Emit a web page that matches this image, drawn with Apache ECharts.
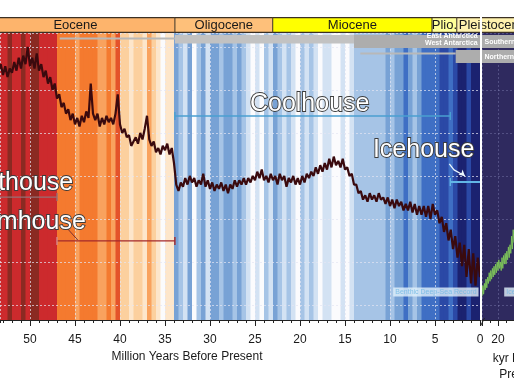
<!DOCTYPE html>
<html><head><meta charset="utf-8">
<script src="https://cdn.jsdelivr.net/npm/echarts@6/dist/echarts.min.js"></script>
<style>html,body{margin:0;padding:0;background:#fff}#c{width:514px;height:386px}</style>
</head><body><div id="c"></div>
<script>
// ---------------- DATA ----------------
// Geological epochs (Ma). Pleistocene bar continues over the kyr panel.
const epochNames   = ['Eocene', 'Oligocene', 'Miocene', 'Plio.', 'Pleistocene'];
const epochStartMa = [56.0, 33.9, 23.03, 5.333, 2.58];
const epochEndMa   = [33.9, 23.03, 5.333, 2.58, -4.0];

// Climate stripes: warmth index per 0.5 Myr bin, from 53.5 Ma to present
const stripeStartMa = 53.5;
const stripeStepMa = 0.5;
const stripeValues = [
  6,6,7,6,6,7,6,7,7,6,6,6,6,
  4,4,4,4,3,4,4,4,4,3,3,4,3,5,
  2,2,1,2,2,1,3,2,1,0,1,1,
  -3,-2,-1,-3,0,-2,-3,-1,-3,-3,-2,-3,-3,-2,-3,-2,-1,0,-1,0,
  -2,-1,-3,-2,-1,-2,-1,0,-2,-1,-2,-1,0,-1,-1,0,0,-1,0,-1,
  -2,-2,-2,-2,-2,-2,-2,-3,-2,-3,-3,-4,-3,-2,-3,-4,-4,-4,-4,-5,-5,-4,-5,-6,-6,-5,-6,-6
];

// Benthic deep-sea temperature record, every 0.25 Myr from 53.5 Ma to present
const tempStartMa = 53.5;
const tempStepMa = 0.25;
const tempValues = [
  10.9,11.2,10.7,11.1,10.6,11.0,10.8,11.3,10.9,11.5,11.0,11.6,11.2,12.0,11.1,11.5,11.0,11.7,10.9,11.2,
  10.6,10.9,10.3,10.6,10.0,10.3,9.6,9.8,9.2,9.4,8.9,9.1,8.6,8.9,8.4,8.7,8.3,8.8,8.5,9.0,
  8.7,10.3,8.9,8.6,8.9,8.3,8.7,8.4,8.8,8.5,8.7,8.4,8.9,9.8,8.4,8.0,8.2,7.8,7.9,7.4,
  7.6,7.8,7.5,8.0,7.7,8.2,8.8,7.7,7.4,7.6,7.1,7.3,7.0,7.4,7.2,7.5,7.0,7.3,6.6,5.6,
  5.3,5.7,5.5,5.9,5.6,6.0,5.7,5.9,5.5,5.8,5.6,6.1,5.5,5.8,5.4,5.7,5.3,5.6,5.4,5.7,
  5.3,5.6,5.2,5.6,5.4,5.8,5.5,5.8,5.6,5.9,5.6,5.9,5.7,6.0,5.8,6.2,5.9,6.3,5.8,6.0,
  5.7,6.1,5.8,6.0,5.6,6.1,5.8,6.0,5.5,5.9,5.7,6.0,5.6,5.9,5.6,6.0,5.7,6.1,5.9,6.2,
  6.0,6.4,6.1,6.5,6.2,6.6,6.3,6.8,6.4,6.9,6.5,6.7,6.4,6.8,6.3,6.4,6.0,6.1,5.6,5.6,
  5.2,5.3,4.9,5.1,4.8,5.2,4.9,5.1,4.8,5.2,4.9,5.0,4.7,5.0,4.6,4.9,4.5,4.9,4.6,4.8,
  4.4,4.7,4.4,4.8,4.3,4.7,4.2,4.6,4.2,4.6,4.1,4.6,4.0,4.7,4.2,4.4,3.8,4.1,3.4,3.8,
  3.0,3.5,2.6,3.2,2.2,2.9,1.8,2.8,1.3,2.6,1.0,2.4,0.9,2.2,1.3
];

// Ice core record (kyr panel), every 1 kyr
const iceCoreStepKyr = 1;
const iceCoreValues = [
  0.4,0.9,0.5,1.0,0.7,1.2,0.8,1.3,1.0,1.5,1.1,1.6,1.2,1.7,1.3,1.8,1.4,1.9,1.5,2.0,
  1.6,2.1,1.7,2.0,1.6,2.2,1.7,2.3,1.9,2.4,1.9,2.5,2.1,2.7,2.2,2.8,2.4,3.2,2.6,3.5,2.9
];

// Climate states
const regimeNames    = ['Hothouse', 'Warmhouse', 'Coolhouse', 'Icehouse'];
const regimeFromMa   = [66.0, 47.0, 33.9, 3.3];
const regimeToMa     = [47.0, 33.9, 3.3, -0.1];

// Ice sheets
const iceSheetRows   = ['Northern', 'Antarctic'];
const iceSheetRow    = [1, 1, 1, 0, 0];
const iceFromMa      = [46.7, 33.9, 14.0, 13.3, 2.7];
const iceToMa        = [33.9, 14.0, -4.0, 2.7, -4.0];
const iceExtent      = ['ephemeral', 'partial', 'full', 'ephemeral', 'full'];

// Axis ticks
const maTickStep = 5;
const kyrTickStep = 20;

// ---------------- LAYOUT / STYLE ----------------
const FONT = '"Liberation Sans", Arial, Helvetica, sans-serif';
const MA_MAX = 53.333, PANEL_PX = 480, CANVAS_W = 514;
const EXT_MIN = -MA_MAX * (CANVAS_W - PANEL_PX) / PANEL_PX;
const Y_MIN = -0.7, Y_MAX = 12.65;
const KYR_MAX = 40;
const STRIPE_PALETTE = ['#1b2270','#2b49a6','#3f6fc4','#78a2d5','#a6c4e6','#d3e2f3','#fbfbfd',
                        '#fde6cb','#fcd09e','#f9a25e','#f47a2f','#e4532a','#cc2a2d','#8a2a22'];
const EPOCH_COLORS = ['#fdb46c','#fec07a','#ffff00','#ffff99','#fff2ae'];
const EDGE = '#3b3024';
const REGIME_STYLE = [
  {color:'#957075', width:1.2},
  {color:'#a3282b', width:1.4, leftCap:'#d58a8a'},
  {color:'#4a9fd0', width:1.4},
  {color:'#62b6e6', width:2}
];
// label anchors for the state names (Ma, level) and bar levels
const regimeBarLevel = [5.02, 2.98, 8.79, 5.72];
const regimeLabelMa = [45.2, 43.8, 25.56, 11.9];
const regimeLabelLevel = [5.67, 3.86, 9.35, 7.2];
const regimeLabelAlign = ['right', 'right', 'left', 'left'];

const gridLine = {show:true, lineStyle:{color:'rgba(228,230,242,0.7)', type:[2,2], width:1}};
const gridLineDim = {show:true, lineStyle:{color:'rgba(150,150,200,0.35)', type:[2,2], width:1}};

function clipToGrid(rect, cs){
  return echarts.graphic.clipRectByRect(rect, {x:cs.x, y:cs.y, width:cs.width, height:cs.height});
}

const chart = echarts.init(document.getElementById('c'), null, {renderer:'canvas'});

const option = {
  animation:false,
  textStyle:{fontFamily:FONT},
  grid:[
    {left:0, top:33, width:480, height:287, outerBoundsMode:'none'},
    {left:482, top:33, width:32, height:287, show:true, backgroundColor:'#2f2a5f', borderWidth:0, outerBoundsMode:'none'},
    {left:0, top:17, width:514, height:16, outerBoundsMode:'none'},
    {left:0, top:34, width:514, height:30, outerBoundsMode:'none'}
  ],
  visualMap:{type:'continuous', show:false, seriesIndex:0, dimension:2, min:-6, max:7,
             inRange:{color:STRIPE_PALETTE}},
  xAxis:[
    {gridIndex:0, type:'value', inverse:true, min:0, max:MA_MAX, interval:maTickStep, position:'bottom',
     name:'Million Years Before Present', nameLocation:'middle', nameGap:29,
     nameTextStyle:{fontSize:12, color:'#1a1a1a', fontFamily:FONT, padding:[0,106,0,0]},
     axisLine:{show:true, onZero:false, lineStyle:{color:'#222', width:1}},
     axisTick:{show:true, length:6, lineStyle:{color:'#222'}},
     axisLabel:{fontSize:12, color:'#1a1a1a', margin:14, fontFamily:FONT, showMaxLabel:false},
     splitLine:gridLine},
    {gridIndex:1, type:'value', min:0, max:KYR_MAX, interval:kyrTickStep, position:'bottom',
     name:'kyr Before\nPresent', nameLocation:'middle', nameGap:29,
     nameTextStyle:{fontSize:12, color:'#1a1a1a', fontFamily:FONT, lineHeight:16, padding:[0,0,0,44]},
     axisLine:{show:true, onZero:false, lineStyle:{color:'#222', width:1}},
     axisTick:{show:true, length:6, lineStyle:{color:'#222'}},
     minorTick:{show:true, splitNumber:2, length:3, lineStyle:{color:'#222'}},
     axisLabel:{fontSize:12, color:'#1a1a1a', margin:14, fontFamily:FONT, showMinLabel:false, showMaxLabel:false},
     splitLine:gridLineDim},
    {gridIndex:2, type:'value', inverse:true, min:EXT_MIN, max:MA_MAX, show:false},
    {gridIndex:3, type:'value', inverse:true, min:EXT_MIN, max:MA_MAX, show:false},
    {gridIndex:0, type:'value', inverse:true, min:0, max:MA_MAX, interval:1, position:'bottom',
     axisLine:{show:false, onZero:false}, axisTick:{show:true, length:3, lineStyle:{color:'#222'}},
     axisLabel:{show:false}, splitLine:{show:false}}
  ],
  yAxis:[
    {gridIndex:0, type:'value', min:Y_MIN, max:Y_MAX, splitNumber:7,
     axisLine:{show:false, onZero:false}, axisTick:{show:false}, axisLabel:{show:false}, splitLine:gridLine},
    {gridIndex:1, type:'value', min:Y_MIN, max:Y_MAX, splitNumber:7,
     axisLine:{show:false, onZero:false}, axisTick:{show:false}, axisLabel:{show:false}, splitLine:gridLineDim},
    {gridIndex:2, type:'value', min:0, max:1, show:false},
    {gridIndex:3, type:'category', data:iceSheetRows, show:false}
  ],
  series:[
    // 0: climate stripes
    {type:'custom', name:'stripes', xAxisIndex:0, yAxisIndex:0, z:-1, silent:true,
     encode:{x:[0,1]},
     data: stripeValues.map((v,i)=>[stripeStartMa - i*stripeStepMa, stripeStartMa-(i+1)*stripeStepMa, v]),
     renderItem(params, api){
       const a = api.coord([api.value(0), Y_MAX]);
       const b = api.coord([api.value(1), Y_MIN]);
       const r = clipToGrid({x:a[0], y:a[1], width:b[0]-a[0]+0.6, height:b[1]-a[1]}, params.coordSys);
       return r && {type:'rect', shape:r, style:{fill:api.visual('color')}};
     }},
    // 1: benthic temperature record
    {type:'line', name:'Benthic Deep-Sea Record', xAxisIndex:0, yAxisIndex:0, z:3, silent:true,
     symbol:'none', showSymbol:false,
     data: tempValues.map((v,i)=>[tempStartMa - i*tempStepMa, v]),
     lineStyle:{color:'#3a0a0e', width:2.2}},
    // 2: climate-state range bars
    {type:'custom', name:'states', xAxisIndex:0, yAxisIndex:0, z:4, silent:true, clip:false,
     encode:{x:[0,1]},
     data: regimeNames.map((n,i)=>[regimeFromMa[i], regimeToMa[i], i]),
     renderItem(params, api){
       const i = api.value(2), st = REGIME_STYLE[i];
       const a = api.coord([api.value(0), regimeBarLevel[i]]);
       const b = api.coord([api.value(1), regimeBarLevel[i]]);
       const ch = [{type:'line', shape:{x1:a[0], y1:a[1], x2:b[0], y2:b[1]}, style:{stroke:st.color, lineWidth:st.width}}];
       ch.push({type:'line', shape:{x1:a[0], y1:a[1]-4, x2:a[0], y2:a[1]+4}, style:{stroke:st.leftCap||st.color, lineWidth:1.4}});
       ch.push({type:'line', shape:{x1:b[0], y1:b[1]-4, x2:b[0], y2:b[1]+4}, style:{stroke:st.color, lineWidth:1.4}});
       return {type:'group', children:ch};
     }},
    // 3: state names
    {type:'custom', name:'stateNames', xAxisIndex:0, yAxisIndex:0, z:6, silent:true, clip:false,
     data: regimeNames.map((n,i)=>[regimeLabelMa[i], regimeLabelLevel[i], i]),
     renderItem(params, api){
       const i = api.value(2);
       const p = api.coord([api.value(0), api.value(1)]);
       return {type:'text', x:p[0], y:p[1], style:{text:regimeNames[i], fill:'#ffffff', stroke:'#3c3c3c',
               lineWidth:1.8, fontSize:25, fontFamily:FONT, align:regimeLabelAlign[i], verticalAlign:'middle'}};
     }},
    // 4: warmhouse pointer
    {type:'line', xAxisIndex:0, yAxisIndex:0, z:5, silent:true, symbol:'none',
     data:[[45.9,3.58],[44.7,3.02]], lineStyle:{color:'#7a3030', width:1}},
    // 5: icehouse arrow
    {type:'line', xAxisIndex:0, yAxisIndex:0, z:5, silent:true, symbol:'none', showSymbol:true,
     data:[[3.41,6.56],[2.89,6.28],[2.67,6.36],{value:[1.67,6.0], symbol:'arrow', symbolSize:[5,6], symbolRotate:-130}],
     itemStyle:{color:'#eaf6fd'}, lineStyle:{color:'#eaf6fd', width:1.3}},
    // 6: record labels
    {type:'scatter', xAxisIndex:0, yAxisIndex:0, z:6, silent:true, symbolSize:0,
     data:[[0.05,0.6]],
     label:{show:true, position:'left', distance:1, formatter:'Benthic Deep-Sea Record', fontSize:7,
            fontFamily:FONT, color:'#6fb8e4', backgroundColor:'#e2f3fb', padding:[1,2]}},
    {type:'scatter', xAxisIndex:1, yAxisIndex:1, z:6, silent:true, symbolSize:0,
     data:[[26.5,0.6]],
     label:{show:true, position:'right', distance:1, formatter:'Ice Core Record', fontSize:7,
            fontFamily:FONT, color:'#6fb8e4', backgroundColor:'#e2f3fb', padding:[1,2]}},
    // 8: ice core record
    {type:'line', name:'Ice Core Record', xAxisIndex:1, yAxisIndex:1, z:3, silent:true, symbol:'none',
     data: iceCoreValues.map((v,i)=>[i*iceCoreStepKyr, v]),
     lineStyle:{color:'#7cc05a', width:1}},
    // 9: epochs
    {type:'custom', name:'epochs', xAxisIndex:2, yAxisIndex:2, z:5, silent:true,
     encode:{x:[0,1]},
     data: epochNames.map((n,i)=>[epochStartMa[i], epochEndMa[i], i]),
     renderItem(params, api){
       const i = api.value(2), cs = params.coordSys;
       const a = api.coord([api.value(0), 1]);
       const b = api.coord([api.value(1), 0]);
       const r = clipToGrid({x:a[0], y:a[1], width:b[0]-a[0], height:b[1]-a[1]}, cs);
       if (!r) return;
       const ch = [
         {type:'rect', shape:r, style:{fill:EPOCH_COLORS[i]}},
         {type:'line', shape:{x1:r.x, y1:r.y+0.6, x2:r.x+r.width, y2:r.y+0.6}, style:{stroke:EDGE, lineWidth:1.2}},
         {type:'line', shape:{x1:r.x, y1:r.y+r.height-0.6, x2:r.x+r.width, y2:r.y+r.height-0.6}, style:{stroke:EDGE, lineWidth:1.2}}
       ];
       if (a[0] > cs.x + 1) ch.push({type:'line', shape:{x1:a[0], y1:r.y, x2:a[0], y2:r.y+r.height}, style:{stroke:EDGE, lineWidth:1}});
       const last = i === epochNames.length - 1;
       ch.push({type:'text', x: last ? a[0]+2 : (a[0]+b[0])/2, y:(a[1]+b[1])/2 + 0.5,
                style:{text:epochNames[i], fill:'#1a1a1a', fontSize:13, fontFamily:FONT,
                       align: last ? 'left' : 'center', verticalAlign:'middle'}});
       return {type:'group', children:ch};
     }},
    // 10: ice sheets
    {type:'custom', name:'iceSheets', xAxisIndex:3, yAxisIndex:3, z:4, silent:true,
     encode:{x:[0,1], y:2},
     data: iceSheetRow.map((r,i)=>[iceFromMa[i], iceToMa[i], r, i]),
     renderItem(params, api){
       const i = api.value(3), row = api.value(2), cs = params.coordSys;
       const a = api.coord([api.value(0), row]);
       const b = api.coord([api.value(1), row]);
       const ext = iceExtent[i];
       const top = a[1] - 6.5;
       let y, h, fill;
       if (ext === 'full') { y = top; h = 13; fill = '#adadad'; }
       else if (ext === 'partial') { y = top; h = 8.5; fill = '#c2c2c2'; }
       else { y = a[1] - 4; h = 2; fill = '#b8b8b8'; }
       const r = clipToGrid({x:a[0], y, width:b[0]-a[0], height:h}, cs);
       if (!r) return;
       const ch = [{type:'rect', shape:r, style:{fill}}];
       if (ext === 'full') {
         const txt = {fill:'#ffffff', fontSize:7, fontWeight:'bold', fontFamily:FONT, verticalAlign:'middle'};
         const pPanel = api.coord([-0.5, row]);
         ch.push({type:'text', x:pPanel[0], y:a[1]+1, style:Object.assign({text: row === 1 ? 'Southern' : 'Northern', align:'left'}, txt)});
         if (row === 1) {
           const pEnd = api.coord([0.25, row]);
           ch.push({type:'text', x:pEnd[0], y:a[1]-1.5, style:Object.assign({text:'East Antarctica\nWest Antarctica', align:'right', lineHeight:7}, txt)});
         }
       }
       return {type:'group', children:ch};
     }}
  ],
  graphic:[
    {type:'rect', z:100, silent:true, shape:{x:480, y:17, width:2, height:303}, style:{fill:'#ffffff'}},
    {type:'line', z:100, silent:true, shape:{x1:480.5, y1:326, x2:484.5, y2:318}, style:{stroke:'#222', lineWidth:1}}
  ]
};
chart.setOption(option);
</script>
</body></html>
